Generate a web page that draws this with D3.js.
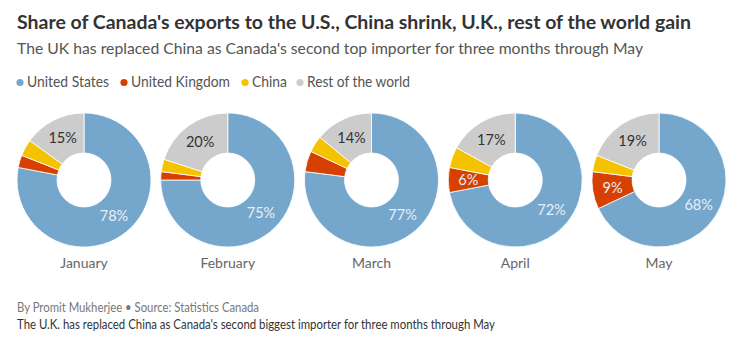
<!DOCTYPE html>
<html><head><meta charset="utf-8">
<script src="https://cdn.jsdelivr.net/npm/d3@7"></script>
<style>
body{margin:0;background:#fff;}
svg{display:block;font-family:Lato,"Open Sans",sans-serif;}
</style></head><body>
<svg id="c" width="739" height="348"></svg>
<script>
const months = ["January","February","March","April","May"];
const series = ["United States","United Kingdom","China","Rest of the world"];
const us    = [78,75,77,72,68];
const uk    = [3,2,5,6,9];
const china = [4,3,4,5,4];
const rest  = [15,20,14,17,19];
const colors = ["#75a7cc","#d64000","#f5c200","#cccccc"];

const svg = d3.select("#c");

function fitText(sel, w){
  sel.each(function(){
    const n = this.getComputedTextLength();
    if (Math.abs(n - w) > 2) { d3.select(this).attr("textLength", w).attr("lengthAdjust","spacingAndGlyphs"); }
  });
}

svg.append("text").attr("x",17).attr("y",29).attr("font-size",19).attr("font-weight","bold")
  .attr("fill","#333").text("Share of Canada's exports to the U.S., China shrink, U.K., rest of the world gain")
  .call(fitText, 674);
svg.append("text").attr("x",17).attr("y",54).attr("font-size",16)
  .attr("fill","#555").text("The UK has replaced China as Canada's second top importer for three months through May")
  .call(fitText, 626);

// legend
const legendX = [20, 124, 245, 300];
const legendW = [82, 99, 35, 103];
const lg = svg.append("g");
series.forEach((s,i)=>{
  lg.append("circle").attr("cx",legendX[i]).attr("cy",82.5).attr("r",3.6).attr("fill",colors[i]);
  lg.append("text").attr("x",legendX[i]+7).attr("y",87).attr("font-size",15).attr("fill","#555").text(s)
    .call(fitText, legendW[i]);
});

const x = d3.scalePoint().domain(months).range([84,659]);
const cy = 180, rOut = 67, rIn = 27;
const pie = d3.pie().sort(null).value(d=>d.v);
const arc = d3.arc().innerRadius(rIn).outerRadius(rOut);

months.forEach((m,i)=>{
  const data = [us[i],uk[i],china[i],rest[i]].map((v,k)=>({v,k}));
  const g = svg.append("g").attr("transform",`translate(${x(m)},${cy})`);
  const arcs = pie(data);
  g.selectAll("path").data(arcs).join("path")
    .attr("d",arc).attr("fill",d=>colors[d.data.k]).attr("stroke","#fff").attr("stroke-width",0.8);
  g.selectAll("text").data(arcs.filter(d=>d.data.v>=6)).join("text")
    .attr("transform",d=>`translate(${arc.centroid(d)})`)
    .attr("text-anchor","middle").attr("dy","0.36em").attr("font-size",14.5)
    .attr("fill",d=>d.data.k===3?"#333":"#e8eff6")
    .text(d=>d.data.v+"%");
  svg.append("text").attr("x",x(m)).attr("y",268).attr("text-anchor","middle")
    .attr("font-size",14).attr("fill","#666").text(m);
});

svg.append("text").attr("x",17).attr("y",312).attr("font-size",13).attr("fill","#777")
  .text("By Promit Mukherjee \u2022 Source: Statistics Canada").call(fitText,242);
svg.append("text").attr("x",17).attr("y",328.5).attr("font-size",13).attr("fill","#333")
  .text("The U.K. has replaced China as Canada's second biggest importer for three months through May").call(fitText,478);
</script></body></html>
